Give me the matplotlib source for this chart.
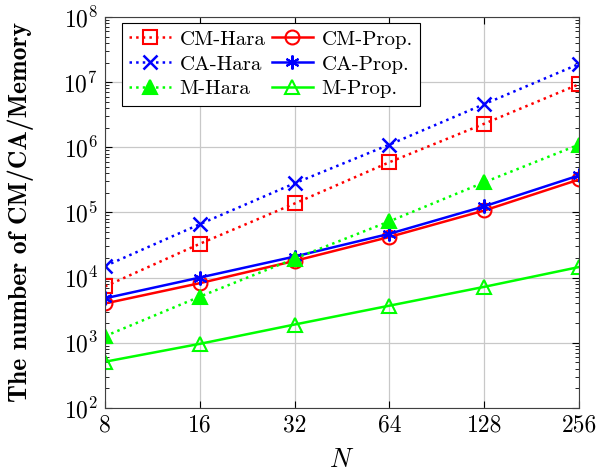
import matplotlib
matplotlib.use("Agg")
import matplotlib.pyplot as plt
from matplotlib.ticker import FixedLocator, LogLocator, NullFormatter

plt.rcParams["font.family"] = "serif"
plt.rcParams["font.serif"] = ["cmr10"]
plt.rcParams["mathtext.fontset"] = "cm"
plt.rcParams["axes.formatter.use_mathtext"] = True

N = [8, 16, 32, 64, 128, 256]
cm_hara = [7300, 33000, 137000, 590000, 2.3e6, 9.3e6]
cm_prop = [4000, 8200, 18000, 42000, 107000, 320000]
ca_hara = [15000, 66000, 280000, 1.1e6, 4.6e6, 1.9e7]
ca_prop = [4800, 10000, 21000, 47000, 124000, 370000]
m_hara = [1260, 5100, 19500, 73000, 290000, 1.1e6]
m_prop = [510, 960, 1900, 3700, 7200, 14500]

red = "#ff0000"
blue = "#0000ff"
green = "#00ff00"

fig = plt.figure(figsize=(5.97, 4.72), dpi=100)
ax = fig.add_axes([0.176, 0.136, 0.794, 0.828])

ms = 10
lw = 1.8
h_cmh, = ax.plot(N, cm_hara, ":", color=red, lw=lw, marker="s", ms=ms, mfc="none", mew=1.5, label="CM-Hara")
h_cmp, = ax.plot(N, cm_prop, "-", color=red, lw=lw, marker="o", ms=ms, mfc="none", mew=1.5, label="CM-Prop.")
h_cah, = ax.plot(N, ca_hara, ":", color=blue, lw=lw, marker="x", ms=ms, mew=1.8, label="CA-Hara")
h_cap, = ax.plot(N, ca_prop, "-", color=blue, lw=lw, marker=(6, 2, 0), ms=ms, mew=1.5, label="CA-Prop.")
h_mh, = ax.plot(N, m_hara, ":", color=green, lw=lw, marker="^", ms=ms, mew=1.5, label="M-Hara")
h_mp, = ax.plot(N, m_prop, "-", color=green, lw=lw, marker="^", ms=ms, mfc="none", mew=1.5, label="M-Prop.")

ax.set_xscale("log", base=2)
ax.set_yscale("log")
ax.set_xlim(8, 256)
ax.set_ylim(1e2, 1e8)
ax.xaxis.set_major_locator(FixedLocator(N))
ax.set_xticklabels([str(n) for n in N])
ax.xaxis.set_minor_locator(FixedLocator([]))
ax.yaxis.set_major_locator(LogLocator(base=10, numticks=10))
ax.yaxis.set_minor_locator(LogLocator(base=10, subs=range(2, 10), numticks=100))
ax.yaxis.set_minor_formatter(NullFormatter())

ax.tick_params(which="both", direction="in", right=True, top=True, labelsize=17)
ax.tick_params(which="major", length=5, pad=5)
ax.tick_params(which="minor", length=3)
ax.grid(True, which="major", color="#c8c8c8", lw=0.9)
ax.set_axisbelow(True)
for s in ax.spines.values():
    s.set_color("#404040")

ax.set_xlabel("$N$", fontsize=19, labelpad=8)
ax.set_ylabel("The number of CM/CA/Memory", fontsize=18.5, family="cmb10")
ax.yaxis.set_label_coords(-0.15, 0.5)

handles = [h_cmh, h_cah, h_mh, h_cmp, h_cap, h_mp]
leg = ax.legend(handles, [h.get_label() for h in handles], ncol=2, loc="upper left",
                bbox_to_anchor=(0.036, 0.985), borderaxespad=0, fontsize=15,
                fancybox=False, edgecolor="black", framealpha=1, handlelength=2.0,
                columnspacing=0.3, borderpad=0.35, labelspacing=0.3, handletextpad=0.4)
leg.get_frame().set_linewidth(0.8)

fig.savefig("out.png", dpi=100)
